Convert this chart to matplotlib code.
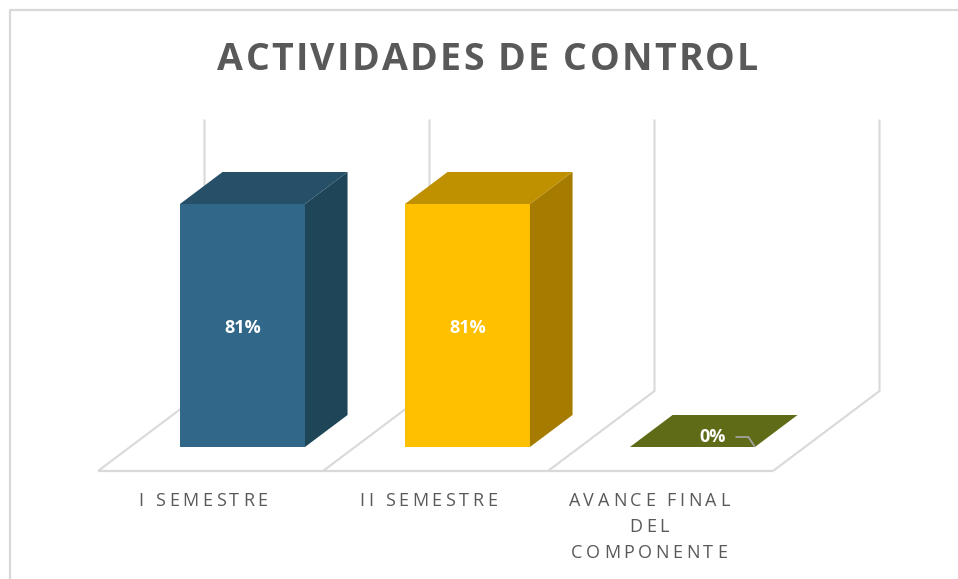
import matplotlib
matplotlib.use("Agg")
import matplotlib.pyplot as plt
from matplotlib.patches import Polygon
from matplotlib.font_manager import FontProperties

titulo = "ACTIVIDADES DE CONTROL"
categorias = [["I SEMESTRE"], ["II SEMESTRE"], ["AVANCE FINAL", "DEL", "COMPONENTE"]]
valores = [81, 81, 0]
etiquetas = ["81%", "81%", "0%"]
c_frente = ["#31688A", "#FFC000", "#5F6B17"]
c_arriba = ["#264F68", "#BF9000", "#5F6B17"]
c_lado = ["#1E4558", "#A67C00", "#5F6B17"]
y_max = 90.5

W, H = 958, 579
GRIS = "#D9D9D9"
TXT = "#595959"
# px por unidad: 225 por categoria, 3 por punto de porcentaje
UX, UY = 225.0, 3.0
X0, Y0 = 98.0, 471.0
# fondo del piso: 106.5 px a la derecha, 80 px arriba
DX, DY = 106.5 / UX, 80.0 / UY
ANCHO = 125.0 / UX
P1, P2 = 0.3, 0.7

fig = plt.figure(figsize=(W / 100, H / 100), dpi=100)
ax = fig.add_axes((0, 0, 1, 1))
ax.set_xlim(-X0 / UX, (W - X0) / UX)
ax.set_ylim((Y0 - H) / UY, Y0 / UY)
ax.axis("off")


def pr(x, v, d=0.0):
    # proyeccion oblicua: categoria, valor, profundidad
    return (x + d * DX, v + d * DY)


def linea(puntos, color=GRIS, lw=1.5, z=1):
    xs = [p[0] for p in puntos]
    ys = [p[1] for p in puntos]
    ax.plot(xs, ys, color=color, lw=lw, zorder=z, solid_capstyle="butt", solid_joinstyle="miter")


def texto_esp(x, y, s, esp, fp, color):
    # matplotlib no tiene espaciado entre letras, se coloca letra por letra
    r = fig.canvas.get_renderer()

    def w(c):
        return r.get_text_width_height_descent(c, fp, False)[0]

    base = w("HH")
    anchos = [w("H" + c + "H") - base + esp for c in s]
    total = sum(anchos)
    xd, yd = ax.transData.transform((x, y))
    px = xd - total / 2
    for c, a in zip(s, anchos):
        if c != " ":
            ax.text(px, yd, c, transform=None, fontproperties=fp, color=color, ha="left", va="center_baseline")
        px += a


# marco
fig.add_artist(plt.Line2D([10 / W, 10 / W, 1], [0, 1 - 9.5 / H, 1 - 9.5 / H], color=GRIS, lw=1.6))

# piso y paredes
n = len(valores)
linea([pr(0, 0), pr(n, 0)], lw=1.6)
for i in range(n + 1):
    linea([pr(i, 0), pr(i, 0, 1), pr(i, y_max, 1)])

# barras
for i, v in enumerate(valores):
    a = i + 0.5 - ANCHO / 2
    b = i + 0.5 + ANCHO / 2
    if v > 0:
        ax.add_patch(Polygon([pr(a, 0, P1), pr(b, 0, P1), pr(b, v, P1), pr(a, v, P1)], fc=c_frente[i], ec="none", zorder=3))
        ax.add_patch(Polygon([pr(b, 0, P1), pr(b, 0, P2), pr(b, v, P2), pr(b, v, P1)], fc=c_lado[i], ec="none", zorder=3))
    ax.add_patch(Polygon([pr(a, v, P1), pr(b, v, P1), pr(b, v, P2), pr(a, v, P2)], fc=c_arriba[i], ec="none", zorder=3))

# etiquetas de datos
for i, v in enumerate(valores):
    cx, cy = pr(i + 0.5, v / 2, P1)
    if v == 0:
        # etiqueta desplazada con linea guia
        cy = cy + 10 / UY
        cx = cx + 20 / UX
        b = pr(i + 0.5 + ANCHO / 2, 0, P1)
        linea([(cx + 23 / UX, cy), (cx + 36 / UX, cy), b], color="#A6A6A6", lw=1.2, z=4)
    else:
        cy = cy - 2.5 / UY
    ax.text(cx, cy, etiquetas[i], color="white", fontsize=13, fontweight="bold", family="Open Sans", ha="center", va="center", zorder=5)

# titulo y categorias
fp_t = FontProperties(family="Open Sans", weight="bold", size=27)
fp_c = FontProperties(family="Open Sans", size=13)
ajuste = [0, 0, -4 / UX]
texto_esp((489 - X0) / UX, (Y0 - 56) / UY, titulo, 2.25, fp_t, TXT)
for i, lineas in enumerate(categorias):
    for j, s in enumerate(lineas):
        texto_esp(i + 0.475 + ajuste[i], (Y0 - 499 - 26 * j) / UY, s, 3.6, fp_c, TXT)

fig.savefig("out.png", dpi=100)
